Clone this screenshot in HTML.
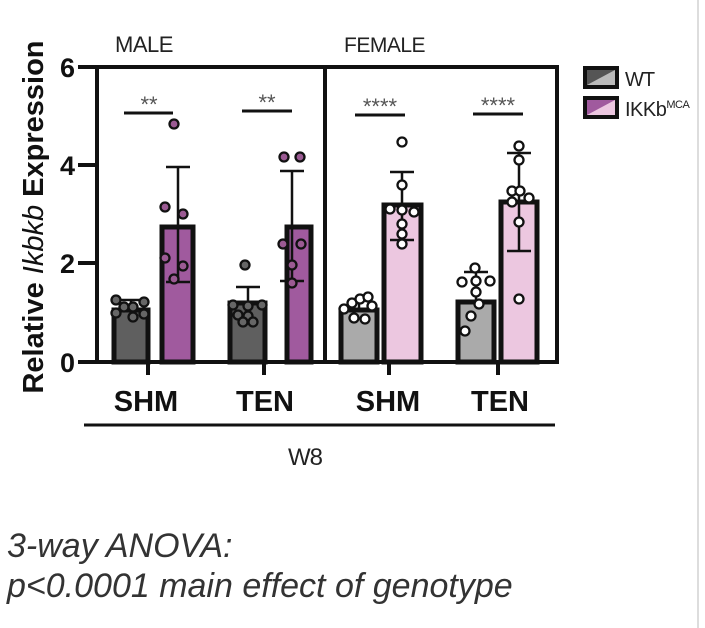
<!DOCTYPE html>
<html><head><meta charset="utf-8"><style>
html,body{margin:0;padding:0;background:#fff;width:705px;height:628px;overflow:hidden}
svg{display:block}
text{font-family:"Liberation Sans",Arial,sans-serif}
</style></head><body>
<svg width="705" height="628" viewBox="0 0 705 628">
<line x1="698" y1="0" x2="698" y2="628" stroke="#ddd" stroke-width="2"/>
<text x="115" y="52" font-size="22" fill="#222" letter-spacing="-0.5">MALE</text>
<text x="344" y="52" font-size="21" fill="#222" letter-spacing="-0.5">FEMALE</text>
<text transform="translate(43,217) rotate(-90)" text-anchor="middle" font-size="29" font-weight="bold" fill="#111">Relative <tspan font-style="italic" font-weight="normal">Ikbkb</tspan> Expression</text>
<g font-size="27" font-weight="bold" fill="#111" text-anchor="end">
<text x="75" y="77">6</text><text x="75" y="175">4</text><text x="75" y="273">2</text><text x="75" y="372">0</text>
</g>
<g stroke="#111" stroke-width="4">
<line x1="78" y1="67" x2="97" y2="67"/><line x1="78" y1="165" x2="97" y2="165"/><line x1="78" y1="263" x2="97" y2="263"/><line x1="78" y1="362" x2="97" y2="362"/>
</g>
<g stroke="#111" stroke-width="5">
<rect x="114" y="310" width="34" height="52" fill="#5f5f5f"/>
<rect x="162" y="227" width="31" height="135" fill="#a05a9e"/>
<rect x="230" y="303" width="35" height="59" fill="#5f5f5f"/>
<rect x="287" y="227" width="24" height="135" fill="#a05a9e"/>
<rect x="341" y="310" width="36" height="52" fill="#aaa"/>
<rect x="384" y="205" width="37" height="157" fill="#ecc7e0"/>
<rect x="458" y="302" width="36" height="60" fill="#aaa"/>
<rect x="501" y="202" width="36" height="160" fill="#ecc7e0"/>
</g>
<g stroke="#111" stroke-width="4" fill="none">
<rect x="97" y="67" width="460" height="295"/>
<line x1="325" y1="67" x2="325" y2="362"/>
<line x1="148" y1="362" x2="148" y2="375"/><line x1="264" y1="362" x2="264" y2="375"/>
<line x1="389" y1="362" x2="389" y2="375"/><line x1="498" y1="362" x2="498" y2="375"/>
</g>
<g stroke="#111" stroke-width="2.5">
<line x1="131" y1="300" x2="131" y2="310"/><line x1="121" y1="300" x2="141" y2="300"/>
<line x1="178" y1="167" x2="178" y2="282"/><line x1="166" y1="167" x2="190" y2="167"/><line x1="166" y1="282" x2="190" y2="282"/>
<line x1="248" y1="287" x2="248" y2="303"/><line x1="236" y1="287" x2="260" y2="287"/>
<line x1="292" y1="171" x2="292" y2="281"/><line x1="280" y1="171" x2="304" y2="171"/><line x1="280" y1="281" x2="304" y2="281"/>
<line x1="359" y1="300" x2="359" y2="310"/><line x1="349" y1="300" x2="369" y2="300"/>
<line x1="402" y1="172" x2="402" y2="240"/><line x1="390" y1="172" x2="414" y2="172"/><line x1="390" y1="240" x2="414" y2="240"/>
<line x1="476" y1="272" x2="476" y2="302"/><line x1="464" y1="272" x2="488" y2="272"/>
<line x1="519" y1="153" x2="519" y2="251"/><line x1="507" y1="153" x2="531" y2="153"/><line x1="507" y1="251" x2="531" y2="251"/>
</g>
<g stroke="#111" stroke-width="2.3">
<g fill="#666">
<circle cx="116" cy="300" r="4.5"/><circle cx="124" cy="307" r="4.5"/><circle cx="133" cy="307" r="4.5"/><circle cx="144" cy="302" r="4.5"/><circle cx="116" cy="313" r="4.5"/><circle cx="133" cy="317" r="4.5"/><circle cx="144" cy="314" r="4.5"/>
<circle cx="245" cy="265" r="4.5"/><circle cx="233" cy="305" r="4.5"/><circle cx="248" cy="306" r="4.5"/><circle cx="262" cy="305" r="4.5"/><circle cx="238" cy="315" r="4.5"/><circle cx="248" cy="316" r="4.5"/><circle cx="243" cy="322" r="4.5"/><circle cx="253" cy="322" r="4.5"/>
</g>
<g fill="#9b5a93">
<circle cx="174" cy="124" r="4.5"/><circle cx="165" cy="207" r="4.5"/><circle cx="183" cy="214" r="4.5"/><circle cx="165" cy="258" r="4.5"/><circle cx="183" cy="266" r="4.5"/><circle cx="174" cy="279" r="4.5"/>
<circle cx="284" cy="157" r="4.5"/><circle cx="300" cy="157" r="4.5"/><circle cx="283" cy="244" r="4.5"/><circle cx="301" cy="244" r="4.5"/><circle cx="292" cy="265" r="4.5"/><circle cx="292" cy="283" r="4.5"/>
</g>
<g fill="#fff">
<circle cx="344" cy="309" r="4.5"/><circle cx="352" cy="303" r="4.5"/><circle cx="360" cy="299" r="4.5"/><circle cx="368" cy="297" r="4.5"/><circle cx="372" cy="306" r="4.5"/><circle cx="354" cy="318" r="4.5"/><circle cx="365" cy="319" r="4.5"/>
<circle cx="402" cy="142" r="4.5"/><circle cx="402" cy="185" r="4.5"/><circle cx="390" cy="209" r="4.5"/><circle cx="402" cy="210" r="4.5"/><circle cx="414" cy="212" r="4.5"/><circle cx="402" cy="224" r="4.5"/><circle cx="402" cy="234" r="4.5"/><circle cx="402" cy="244" r="4.5"/>
<circle cx="475" cy="268" r="4.5"/><circle cx="462" cy="282" r="4.5"/><circle cx="476" cy="281" r="4.5"/><circle cx="490" cy="281" r="4.5"/><circle cx="476" cy="292" r="4.5"/><circle cx="479" cy="304" r="4.5"/><circle cx="471" cy="316" r="4.5"/><circle cx="465" cy="331" r="4.5"/>
<circle cx="519" cy="146" r="4.5"/><circle cx="519" cy="160" r="4.5"/><circle cx="512" cy="191" r="4.5"/><circle cx="520" cy="191" r="4.5"/><circle cx="529" cy="198" r="4.5"/><circle cx="512" cy="202" r="4.5"/><circle cx="519" cy="222" r="4.5"/><circle cx="519" cy="299" r="4.5"/>
</g>
</g>
<g stroke="#111" stroke-width="3">
<line x1="124" y1="113" x2="173" y2="113"/><line x1="242" y1="111" x2="292" y2="111"/>
<line x1="355" y1="115" x2="405" y2="115"/><line x1="473" y1="114" x2="523" y2="114"/>
</g>
<g font-size="22" fill="#555" text-anchor="middle">
<text x="149" y="112">**</text><text x="267" y="110">**</text>
<text x="380" y="114">****</text><text x="498" y="113">****</text>
</g>
<g font-size="29" font-weight="bold" fill="#111" text-anchor="middle">
<text x="146" y="411">SHM</text><text x="265" y="411">TEN</text><text x="388" y="411">SHM</text><text x="500" y="411">TEN</text>
</g>
<line x1="84" y1="425" x2="555" y2="425" stroke="#111" stroke-width="3"/>
<text x="305" y="465" font-size="24" fill="#222" text-anchor="middle" letter-spacing="-1">W8</text>
<g stroke="#111" stroke-width="4">
<rect x="585" y="68" width="32" height="19" fill="#bbb"/>
<rect x="585" y="98" width="32" height="19" fill="#ecc7e0"/>
</g>
<polygon points="587,85 615,70 587,70" fill="#555"/>
<polygon points="587,115 615,100 587,100" fill="#a05a9e"/>
<text x="625" y="86" font-size="20" fill="#222" letter-spacing="-1">WT</text>
<text x="625" y="116" font-size="20" fill="#222" letter-spacing="-0.5">IKKb<tspan font-size="11" dy="-8">MCA</tspan></text>
<g font-size="34" font-style="italic" fill="#333" letter-spacing="0">
<text x="7" y="557">3-way ANOVA:</text>
<text x="7" y="597">p&lt;0.0001 main effect of genotype</text>
</g>
</svg>
</body></html>
